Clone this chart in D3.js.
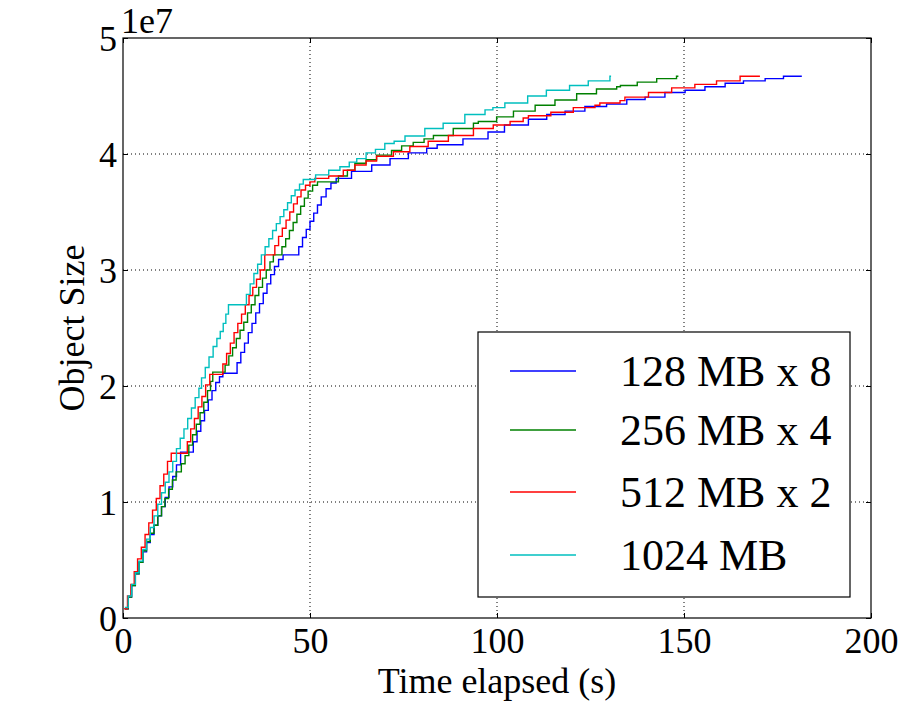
<!DOCTYPE html>
<html>
<head>
<meta charset="utf-8">
<script src="https://cdn.jsdelivr.net/npm/d3@7"></script>
<style>
  html, body { margin: 0; padding: 0; background: #ffffff; }
  svg { display: block; }
  text { font-family: "Liberation Serif", "Times New Roman", "DejaVu Serif", serif; fill: #000; }
</style>
</head>
<body>
<svg id="chart" width="906" height="702"></svg>
<script>
// ---------- data (time in s, object size in units of 1e6) ----------
const seriesNames = ["128 MB x 8", "256 MB x 4", "512 MB x 2", "1024 MB"];
const seriesColors = ["#0000ff", "#008000", "#ff0000", "#00bfbf"];

const blue128x8 = [
  [0.5,0.8],[1.4,1.8],[2.3,2.8],[3.3,3.8],[4.3,4.8],[5.3,5.7],[6.3,6.5],[7.3,7.2],[8.3,8.0],[9.3,8.8],
  [10.3,9.6],[11.3,10.4],[12.3,11.3],[13.3,12.2],[14.3,13.2],[15.4,14.3],
  [18.8,15.2],[19.8,16.1],[20.8,17.0],[21.8,17.9],[22.8,18.8],[23.8,19.6],[24.8,20.3],[25.8,20.8],[26.7,21.1],
  [30.5,22.0],[31.5,22.9],[32.5,23.7],[33.5,24.6],[34.5,25.4],[35.5,26.3],[36.5,27.1],[37.5,28.0],[38.5,28.8],
  [39.5,29.6],[40.5,30.3],[41.6,30.9],[42.8,31.3],
  [47.0,32.0],[48.0,32.8],[49.0,33.5],[50.0,34.2],[51.0,34.9],[52.0,35.6],[53.0,36.3],[54.3,37.0],[55.6,37.5],[57.0,37.9],
  [61.1,38.5],[66.5,39.05],[71.4,39.6],[76.3,40.1],[81.2,40.5],[84.0,40.8],[90.9,41.3],[97.6,41.9],[102.0,42.5],
  [108.4,43.0],[113.3,43.4],[118.2,43.7],[123.5,44.1],[129.3,44.3],[134.7,44.7],[139.6,44.9],[144.9,45.3],
  [150.3,45.5],[155.6,45.8],[161.0,46.1],[165.9,46.3],[171.7,46.5],[176.6,46.7],[181.5,46.7]
];

const green256x4 = [
  [0.5,0.8],[1.4,1.8],[2.3,2.8],[3.3,3.8],[4.3,4.8],[5.3,5.8],[6.3,6.6],[7.3,7.3],[8.3,8.0],[9.3,8.8],
  [10.3,9.6],[11.2,10.3],[12.2,11.1],[13.2,11.9],[14.2,12.6],[15.6,13.3],[16.6,14.0],[17.6,14.9],[18.6,15.8],
  [19.6,16.7],[20.6,17.7],[21.6,18.6],[22.6,19.6],[23.4,20.4],[24.0,21.2],
  [27.3,21.8],[28.3,22.6],[29.3,23.3],[30.3,24.1],[31.3,24.8],[32.3,25.5],[33.3,26.3],[34.3,27.0],[35.3,27.8],
  [36.3,28.5],[37.3,29.3],[38.3,30.0],[39.3,30.7],[40.2,31.3],
  [42.5,32.0],[43.5,32.7],[44.5,33.4],[45.5,34.1],[46.5,34.8],[47.5,35.5],[48.5,36.2],[49.5,36.8],[50.7,37.3],[52.0,37.6],
  [57.6,38.1],[60.0,38.6],[62.0,39.2],[65.0,39.5],[67.8,39.9],[71.8,40.3],[74.5,40.7],[77.6,41.0],[80.5,41.3],
  [83.0,41.6],[88.3,42.2],[93.7,42.65],[95.0,42.8],[99.9,43.2],[104.4,43.7],[110.2,44.2],[115.5,44.65],
  [121.3,45.2],[126.6,45.6],[132.0,45.8],[133.0,45.9],[137.5,46.2],[142.7,46.5],[148.0,46.7],[148.5,46.7]
];

const red512x2 = [
  [0.3,0.8],[1.2,1.9],[2.1,2.9],[3.0,4.0],[3.9,5.1],[4.9,6.1],[5.9,7.2],[6.9,8.2],[7.9,9.3],[8.9,10.3],
  [9.9,11.4],[10.9,12.4],[11.9,13.5],[12.9,14.2],
  [17.2,15.2],[18.1,16.3],[19.1,17.2],[20.1,18.2],[21.1,19.1],[22.1,20.1],[23.2,21.0],
  [26.7,21.9],[27.7,22.8],[28.7,23.7],[29.7,24.6],[30.7,25.4],[31.7,26.2],[32.7,27.0],[33.7,27.8],[34.7,28.5],
  [35.7,29.2],[36.7,30.0],[37.9,31.3],
  [40.6,32.1],[41.6,32.9],[42.6,33.6],[43.6,34.3],[44.6,35.0],[45.6,35.7],[46.6,36.3],[47.6,36.9],[48.8,37.3],
  [50.0,37.6],[51.3,37.9],
  [55.0,38.1],[58.9,38.6],[62.0,39.05],[65.0,39.4],[67.8,39.8],[72.3,40.2],[76.7,40.65],[81.6,41.1],[87.0,41.6],
  [93.7,42.2],[99.0,42.5],[103.5,42.8],[107.0,43.1],[108.4,43.3],[114.4,43.6],[120.4,44.0],[126.2,44.2],
  [127.5,44.4],[132.9,44.6],[134.2,44.9],[140.5,45.3],[146.7,45.7],[152.9,46.0],[158.7,46.3],[165.0,46.7],[170.3,46.7]
];

const cyan1024 = [
  [0.5,0.9],[1.4,1.9],[2.3,2.9],[3.3,3.9],[4.3,4.9],[5.3,5.9],[6.3,6.8],[7.3,7.8],[8.3,8.8],[9.3,9.8],
  [10.3,10.8],[11.3,11.7],[12.3,12.6],[13.3,13.5],[14.3,14.6],[15.3,15.5],[16.3,16.3],[17.3,17.2],[18.3,18.1],
  [19.3,19.0],[20.3,19.8],[21.0,20.7],[22.0,21.6],[23.0,22.5],[24.1,23.4],[25.1,24.1],[26.0,24.7],[26.8,25.4],
  [27.5,26.2],[28.2,27.0],
  [33.0,27.9],[34.0,28.8],[35.0,29.7],[36.0,30.5],[37.0,31.3],
  [38.0,32.0],[39.0,32.7],[40.0,33.4],[41.0,34.0],[42.0,34.6],[43.0,35.2],[44.0,35.8],[45.0,36.4],[46.0,36.9],
  [47.2,37.4],[48.2,37.8],
  [51.5,38.2],[55.0,38.6],[58.0,38.9],[60.5,39.3],[62.5,39.6],[65.0,40.1],[67.5,40.4],[70.0,40.9],[72.5,41.1],
  [75.4,41.55],[80.7,42.2],[85.6,42.65],[91.4,43.4],[96.8,43.8],[98.9,44.0],[102.1,44.4],[108.2,45.0],
  [113.2,45.5],[119.4,45.9],[124.4,46.3],[130.2,46.7],[130.5,46.7]
];

const xTicks = [0, 50, 100, 150, 200];
const yTicks = [0, 1e7, 2e7, 3e7, 4e7, 5e7];
const yTickLabels = ["0", "1", "2", "3", "4", "5"];
const yOffsetLabel = "1e7";
const xLabel = "Time elapsed (s)";
const yLabel = "Object Size";
const UNIT = 1e6;

// ---------- layout ----------
const svg = d3.select("#chart");
const plot = { left: 123, right: 871, top: 38, bottom: 618 };

const x = d3.scaleLinear().domain([0, 200]).range([plot.left, plot.right]);
const y = d3.scaleLinear().domain([0, 5e7]).range([plot.bottom, plot.top]);

const FONT = 36;

// grid
const grid = svg.append("g");
grid.selectAll(".gx").data(xTicks.slice(1, -1)).enter().append("line")
  .attr("x1", d => x(d)).attr("x2", d => x(d))
  .attr("y1", plot.top).attr("y2", plot.bottom)
  .attr("stroke", "#000").attr("stroke-width", 1).attr("stroke-dasharray", "1,3");
grid.selectAll(".gy").data(yTicks.slice(1, -1)).enter().append("line")
  .attr("y1", d => y(d)).attr("y2", d => y(d))
  .attr("x1", plot.left).attr("x2", plot.right)
  .attr("stroke", "#000").attr("stroke-width", 1).attr("stroke-dasharray", "1,3");

// series
const allSeries = [blue128x8, green256x4, red512x2, cyan1024];
const line = d3.line()
  .x(d => x(d[0]))
  .y(d => y(d[1] * UNIT))
  .curve(d3.curveStepAfter);

svg.append("g").selectAll("path").data(allSeries).enter().append("path")
  .attr("d", d => line(d))
  .attr("fill", "none")
  .attr("stroke", (d, i) => seriesColors[i])
  .attr("stroke-width", 1.4);

// axes (inward ticks on all sides)
const TL = 5;
const axB = svg.append("g").attr("transform", `translate(0,${plot.bottom})`)
  .call(d3.axisBottom(x).tickValues(xTicks).tickSizeInner(-TL).tickSizeOuter(0).tickPadding(9).tickFormat(d3.format("d")));
const axT = svg.append("g").attr("transform", `translate(0,${plot.top})`)
  .call(d3.axisTop(x).tickValues(xTicks).tickSizeInner(-TL).tickSizeOuter(0).tickFormat(""));
const axL = svg.append("g").attr("transform", `translate(${plot.left},0)`)
  .call(d3.axisLeft(y).tickValues(yTicks).tickSizeInner(-TL).tickSizeOuter(0).tickPadding(6)
    .tickFormat((d, i) => yTickLabels[i]));
const axR = svg.append("g").attr("transform", `translate(${plot.right},0)`)
  .call(d3.axisRight(y).tickValues(yTicks).tickSizeInner(-TL).tickSizeOuter(0).tickFormat(""));

[axB, axT, axL, axR].forEach(a => {
  a.select(".domain").remove();
  a.selectAll(".tick line").attr("stroke", "#000").attr("stroke-width", 1);
  a.selectAll("text").attr("font-size", FONT).attr("font-family", "Liberation Serif, serif").attr("fill", "#000");
});
axB.selectAll("text").attr("dy", "0.71em");
axL.selectAll("text").attr("dy", "0.34em");

// frame
svg.append("rect")
  .attr("x", plot.left).attr("y", plot.top)
  .attr("width", plot.right - plot.left).attr("height", plot.bottom - plot.top)
  .attr("fill", "none").attr("stroke", "#000").attr("stroke-width", 1.2);

// offset label
svg.append("text").attr("x", plot.left - 2).attr("y", 33).attr("font-size", FONT).text(yOffsetLabel);

// axis labels
svg.append("text").attr("x", (plot.left + plot.right) / 2).attr("y", 693)
  .attr("text-anchor", "middle").attr("font-size", FONT).text(xLabel);
svg.append("text").attr("transform", `translate(84,${(plot.top + plot.bottom) / 2}) rotate(-90)`)
  .attr("text-anchor", "middle").attr("font-size", FONT).text(yLabel);

// legend
const lg = { x: 478, y: 332, w: 372, h: 265 };
const legend = svg.append("g");
legend.append("rect").attr("x", lg.x).attr("y", lg.y).attr("width", lg.w).attr("height", lg.h)
  .attr("fill", "#fff").attr("stroke", "#000").attr("stroke-width", 1.2);
const entryY = [371, 430, 492, 555];
seriesNames.forEach((name, i) => {
  legend.append("line").attr("x1", 510).attr("x2", 576).attr("y1", entryY[i]).attr("y2", entryY[i])
    .attr("stroke", seriesColors[i]).attr("stroke-width", 1.4);
  legend.append("text").attr("x", 620).attr("y", entryY[i]).attr("dy", "0.35em")
    .attr("font-size", 44).text(name);
});
</script>
</body>
</html>
